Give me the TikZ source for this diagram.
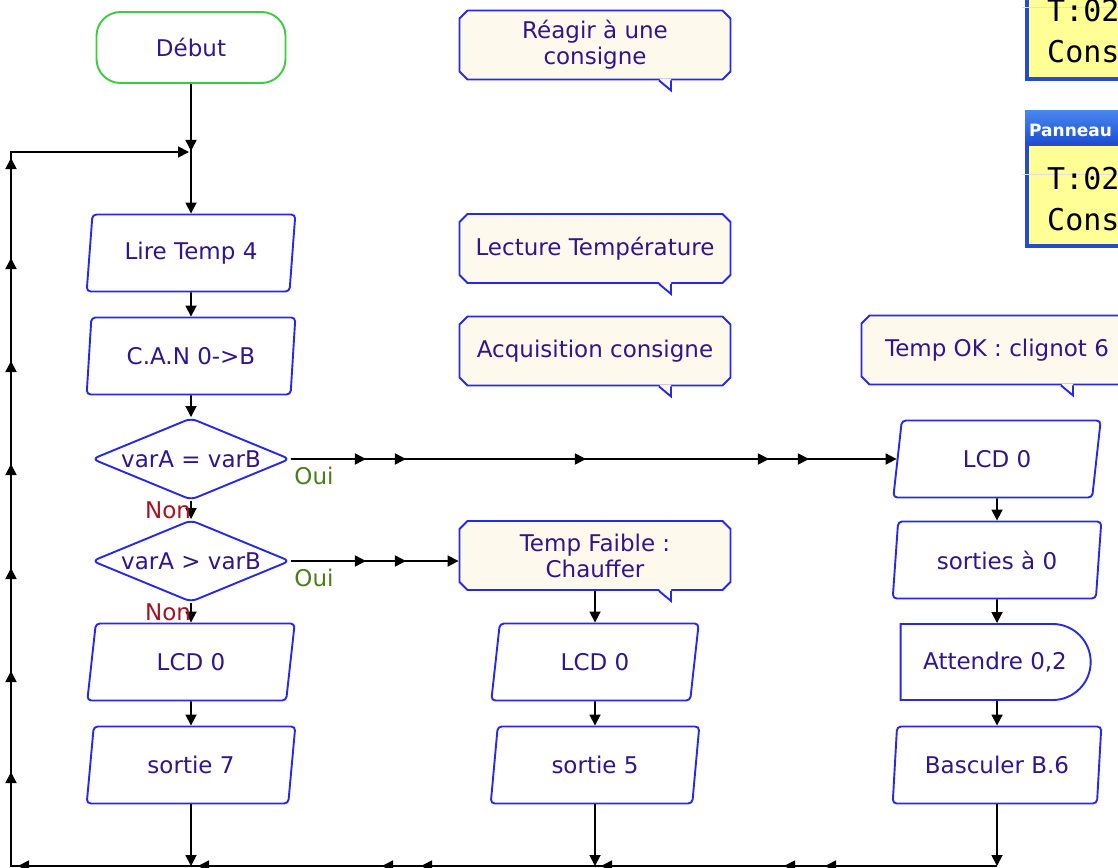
\documentclass[tikz,border=0pt]{standalone}
\usepackage{fontspec}
\setmainfont{DejaVu Sans}
\newfontfamily\lcdfont{DejaVu Sans Mono}
\usetikzlibrary{shapes.geometric,shapes.misc,arrows.meta,decorations.markings}

\definecolor{boxblue}{RGB}{40,40,235}
\definecolor{txtblue}{RGB}{50,20,140}
\definecolor{startgreen}{RGB}{60,205,60}
\definecolor{notefill}{RGB}{253,249,236}
\definecolor{ouigreen}{RGB}{75,125,25}
\definecolor{nonred}{RGB}{165,20,35}
\definecolor{lcdyellow}{RGB}{255,255,150}
\definecolor{panelblue}{RGB}{40,75,205}
\definecolor{bartop}{RGB}{75,135,240}
\definecolor{barbottom}{RGB}{25,80,210}

\tikzset{
  base/.style={draw=boxblue, line width=1.9pt, text=txtblue, align=center, inner sep=0pt},
  start/.style={base, draw=startgreen, rectangle, rounded corners=24pt, minimum width=189pt, minimum height=71pt},
  io/.style={base, trapezium, trapezium left angle=80, trapezium right angle=100, trapezium stretches=true, rounded corners=4pt, minimum width=209pt, minimum height=77pt},
  test/.style={base, diamond, aspect=2.4, rounded corners=6pt, minimum width=198pt, minimum height=82pt},
  delay/.style={base, rounded rectangle, rounded rectangle left arc=none, minimum width=190pt, minimum height=76pt},
  note/.style={base, fill=notefill, chamfered rectangle, chamfered rectangle xsep=4pt, chamfered rectangle ysep=4pt, minimum width=271pt, minimum height=69pt},
  flow/.style={line width=1.8pt, -{Triangle[length=11pt,width=11pt]}},
  marked/.style={postaction={decorate}},
  tipat/.style={decoration={markings, mark=at position #1 with {\arrow{Triangle[length=11pt,width=11pt]}}}},
  oui/.style={text=ouigreen, inner sep=0pt},
  non/.style={text=nonred, inner sep=0pt},
  lcd/.style={font=\lcdfont\fontsize{30}{30}\selectfont, inner sep=0pt, anchor=base west}
}

% pointer under a comment box
\newcommand\notetail[1]{%
  \fill[notefill] ([xshift=64pt,yshift=1.8pt]#1.south) -- ([xshift=76pt,yshift=-10pt]#1.south) -- ([xshift=76pt,yshift=1.8pt]#1.south) -- cycle;
  \draw[boxblue, line width=1.9pt] ([xshift=64pt]#1.south) -- ([xshift=76pt,yshift=-10pt]#1.south) -- ([xshift=76pt]#1.south);}

\begin{document}
\begin{tikzpicture}[x=1pt, y=-1pt, font=\fontsize{23}{26}\selectfont]
\path[use as bounding box, fill=white] (0,0) rectangle (1118,867);
%blocks
\node[start] (debut) at (191,47.5) {Début};
\node[io] (lire) at (191,253) {Lire Temp 4};
\node[io] (can) at (191,356) {C.A.N 0->B};
\node[test] (egal) at (191,459) {varA = varB};
\node[test] (plus) at (191,561) {varA > varB};
\node[io] (lcdA) at (191,662) {LCD 0};
\node[io] (sortA) at (191,765) {sortie 7};
\node[io] (lcdB) at (595,662) {LCD 0};
\node[io] (sortB) at (595,765) {sortie 5};
\node[io] (lcdC) at (997,459) {LCD 0};
\node[io] (zero) at (997,560) {sorties à 0};
\node[delay] (attente) at (995,662) {Attendre 0,2};
\node[io] (bascule) at (997,765) {Basculer B.6};
%comments
\node[note] (reagir) at (595,45) {Réagir à une\\consigne};
\node[note] (lecture) at (595,248.5) {Lecture Température};
\node[note] (acquis) at (595,351) {Acquisition consigne};
\node[note] (tempok) at (997,350) {Temp OK : clignot 6};
\node[note] (faible) at (595,555.5) {Temp Faible :\\Chauffer};
\notetail{reagir}
\notetail{lecture}
\notetail{acquis}
\notetail{tempok}
\notetail{faible}
%links
\coordinate (bd) at (997,866);
\coordinate (bg) at (11,866);
\coordinate (hg) at (11,152);
\coordinate (jn) at (191,152);
\draw[flow, marked, tipat=67pt] (debut) -- (lire);
\draw[flow] (lire) -- (can);
\draw[flow] (can) -- (egal);
\draw[flow] (egal) -- (plus);
\draw[flow] (plus) -- (lcdA);
\draw[flow] (lcdA) -- (sortA);
\draw[flow, marked, tipat/.list={75pt,115pt,295pt,478pt,518pt}] (egal) -- (lcdC);
\draw[flow, marked, tipat/.list={75pt,115pt}] (plus.east) -- (plus.east -| faible.west);
\draw[flow] (faible) -- (lcdB);
\draw[flow] (lcdB) -- (sortB);
\draw[flow] (lcdC) -- (zero);
\draw[flow] (zero) -- (attente.north -| zero);
\draw[flow] (attente.south -| bascule) -- (bascule);
\draw[flow] (sortA) -- (sortA |- bg);
\draw[flow] (sortB) -- (sortB |- bg);
\draw[flow] (bascule) -- (bd);
\draw[flow, shorten >=2pt, marked, tipat/.list={172pt,213pt,396pt,576pt,615pt,799pt,979pt,1080pt,1181pt,1284pt,1388pt,1491pt,1594pt,1694pt}]
  (bd) -- (bg) -- (hg) -- (jn);
%labels
\node[oui] (ouiA) at (314,476) {Oui};
\node[oui] (ouiB) at (314,578) {Oui};
\node[non] (nonA) at (168,510) {Non};
\node[non] (nonB) at (168,612) {Non};
%panels
\filldraw[fill=lcdyellow, draw=panelblue, line width=3.5pt] (1027,-5) rectangle (1135,79);
\draw[black!12, line width=1pt] (1022,8) -- (1118,8);
\node[lcd] (temp1) at (1047,22) {T:02};
\node[lcd] (cons1) at (1047,63) {Cons};
\shade[top color=bartop, bottom color=barbottom] (1025,110) rectangle (1135,144);
\node[text=white, font=\bfseries\fontsize{17}{20}\selectfont, inner sep=0pt, anchor=base west] (titre) at (1029,136) {Panneau};
\filldraw[fill=lcdyellow, draw=panelblue, line width=3.5pt] (1027,144) rectangle (1135,246);
\draw[black!12, line width=1pt] (1022,174) -- (1118,174);
\node[lcd] (temp2) at (1047,189) {T:02};
\node[lcd] (cons2) at (1047,230) {Cons};
\end{tikzpicture}
\end{document}
